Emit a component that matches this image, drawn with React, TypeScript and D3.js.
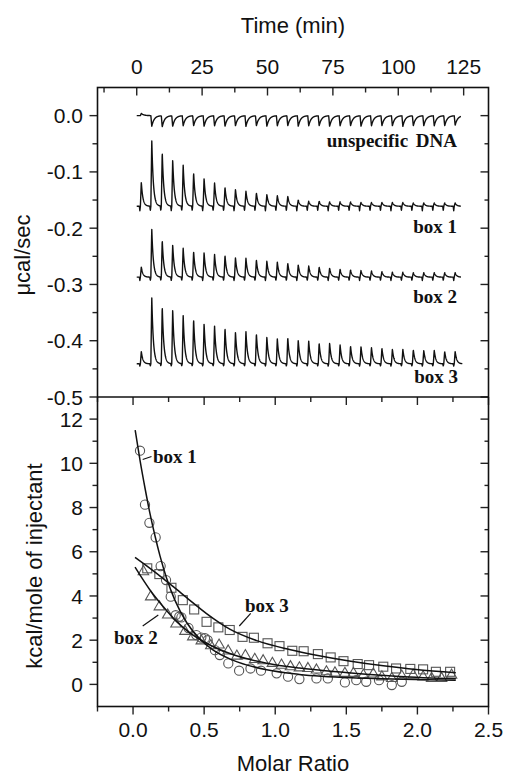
import React from "react";
import * as d3 from "d3";

// ---------- Data ----------
const timeTicks = [0, 25, 50, 75, 100, 125];
const timeMinor = [-12.5, 12.5, 37.5, 62.5, 87.5, 112.5];
const rateTicks = [0.0, -0.1, -0.2, -0.3, -0.4, -0.5];
const rateMinor = [-0.05, -0.15, -0.25, -0.35, -0.45];
const ratioTicks = [0.0, 0.5, 1.0, 1.5, 2.0, 2.5];
const ratioMinor = [-0.25, 0.25, 0.75, 1.25, 1.75, 2.25];
const heatTicks = [0, 2, 4, 6, 8, 10, 12];
const heatMinor = [1, 3, 5, 7, 9, 11];

// injection schedule (min)
const injectionTimes = [
  1.4, 5.4, 9.4, 13.4, 17.4, 21.4, 25.4, 29.4, 33.4, 37.4, 41.4, 45.4, 49.4, 53.4, 57.4, 61.4,
  65.4, 69.4, 73.4, 77.4, 81.4, 85.4, 89.4, 93.4, 97.4, 101.4, 105.4, 109.4, 113.4, 117.4, 121.4,
];

// raw heat-rate traces (µcal/sec): baseline and peak height per injection
const dnaBaseline = 0.0;
const dnaPeaks = [
  0.004, -0.019, -0.02, -0.019, -0.018, -0.018, -0.019, -0.018, -0.019, -0.018, -0.019, -0.018,
  -0.019, -0.018, -0.018, -0.019, -0.018, -0.018, -0.019, -0.018, -0.018, -0.019, -0.018, -0.018,
  -0.018, -0.019, -0.018, -0.018, -0.018, -0.018, -0.017,
];
const box1Baseline = -0.161;
const box1Peaks = [
  0.043, 0.118, 0.097, 0.083, 0.074, 0.06, 0.05, 0.042, 0.034, 0.03, 0.027, 0.024, 0.021, 0.019,
  0.018, 0.011, 0.009, 0.009, 0.008, 0.008, 0.008, 0.007, 0.007, 0.007, 0.007, 0.007, 0.006, 0.006,
  0.006, 0.006, 0.006,
];
const box2Baseline = -0.287;
const box2Peaks = [
  0.018, 0.086, 0.066, 0.058, 0.052, 0.046, 0.044, 0.041, 0.039, 0.035, 0.034, 0.031, 0.029, 0.027,
  0.025, 0.022, 0.02, 0.018, 0.016, 0.014, 0.013, 0.012, 0.011, 0.01, 0.009, 0.009, 0.008, 0.008,
  0.008, 0.008, 0.008,
];
const box3Baseline = -0.441;
const box3Peaks = [
  0.022, 0.119, 0.103, 0.097, 0.087, 0.08, 0.072, 0.068, 0.064, 0.057, 0.058, 0.054, 0.048, 0.045,
  0.047, 0.042, 0.041, 0.037, 0.037, 0.034, 0.032, 0.031, 0.029, 0.028, 0.026, 0.026, 0.025, 0.024,
  0.024, 0.022, 0.022,
];
const traceDips = [0, 0.008, 0.006, 0.004];

// integrated heats (kcal/mole of injectant)
const box1Ratio = [
  0.049, 0.084, 0.115, 0.159, 0.194, 0.232, 0.265, 0.3, 0.325, 0.34, 0.39, 0.445, 0.48, 0.506,
  0.525, 0.576, 0.61, 0.67, 0.746, 0.826, 0.9, 1.01, 1.09, 1.17, 1.29, 1.37, 1.49, 1.57, 1.64,
  1.73, 1.82, 1.89,
];
const box1Heat = [
  10.57, 8.13, 7.31, 6.65, 5.35, 4.72, 3.97, 3.13, 3.06, 3.03, 2.55, 2.23, 2.12, 2.09, 2.0, 1.55,
  1.33, 0.95, 0.62, 0.72, 0.62, 0.5, 0.35, 0.24, 0.27, 0.27, 0.09, 0.19, 0.12, 0.19, -0.03, 0.12,
];
const box2Ratio = [
  0.073, 0.124, 0.185, 0.244, 0.302, 0.365, 0.42, 0.48, 0.547, 0.605, 0.669, 0.73, 0.79, 0.856,
  0.915, 0.98, 1.044, 1.107, 1.17, 1.23, 1.29, 1.36, 1.42, 1.49, 1.55, 1.62, 1.69, 1.75, 1.82,
  1.89, 1.97, 2.04, 2.1, 2.17, 2.24,
];
const box2Heat = [
  5.1, 3.96, 3.51, 3.14, 2.73, 2.4, 2.15, 1.97, 1.75, 1.78, 1.51, 1.28, 1.3, 1.13, 1.07, 0.95,
  0.87, 0.8, 0.75, 0.72, 0.65, 0.57, 0.52, 0.5, 0.5, 0.42, 0.47, 0.34, 0.27, 0.38, 0.42, 0.34,
  0.27, 0.27, 0.42,
];
const box3Ratio = [
  0.1, 0.185, 0.27, 0.35, 0.43, 0.517, 0.6, 0.68, 0.77, 0.85, 0.946, 1.03, 1.12, 1.2, 1.3, 1.39,
  1.48, 1.58, 1.66, 1.76, 1.85, 1.95, 2.04, 2.13, 2.23,
];
const box3Heat = [
  5.25, 4.99, 4.37, 3.81, 3.39, 2.83, 2.58, 2.46, 2.15, 2.11, 1.86, 1.73, 1.52, 1.5, 1.37, 1.22,
  1.05, 0.92, 0.87, 0.8, 0.72, 0.7, 0.68, 0.57, 0.57,
];

// fitted curves
const box1FitX = [0.015, 0.05, 0.085, 0.12, 0.155, 0.19, 0.236, 0.295, 0.377, 0.47, 0.564, 0.7, 0.94, 1.17, 1.64, 2.27];
const box1FitY = [11.5, 10.1, 8.85, 7.7, 6.7, 5.8, 4.8, 3.8, 2.8, 2.05, 1.55, 1.1, 0.66, 0.45, 0.28, 0.19];
const box2FitX = [0.014, 0.119, 0.213, 0.305, 0.4, 0.517, 0.7, 0.94, 1.17, 1.41, 1.64, 1.875, 2.27];
const box2FitY = [5.3, 4.27, 3.51, 2.85, 2.33, 1.86, 1.35, 0.96, 0.74, 0.58, 0.46, 0.36, 0.25];
const box3FitX = [0.014, 0.096, 0.19, 0.283, 0.4, 0.517, 0.68, 0.87, 1.1, 1.29, 1.52, 1.76, 1.99, 2.27];
const box3FitY = [5.75, 5.36, 4.9, 4.42, 3.8, 3.2, 2.5, 1.98, 1.58, 1.32, 1.06, 0.84, 0.67, 0.53];

// ---------- Helpers ----------
function traceSeries(baseline: number, peaks: number[], dip: number, tau: number, tEnd: number) {
  const pts: [number, number][] = [];
  for (let t = 0; t <= tEnd + 1e-9; t += 0.06) {
    let v = baseline;
    injectionTimes.forEach((ti, i) => {
      const u = t - ti;
      if (u >= 0 && u < 0.35) v += (peaks[i] * u) / 0.35;
      else if (u >= 0.35) v += peaks[i] * Math.exp(-(u - 0.35) / tau);
      if (dip > 0 && u >= -0.4 && u < 0) v -= dip * (1 - Math.abs(u + 0.2) / 0.2);
    });
    pts.push([t, v]);
  }
  return pts;
}

const SANS = "'Liberation Sans', Arial, sans-serif";
const SERIF = "'Liberation Serif', 'Times New Roman', serif";

export default function App() {
  const W = 506;
  const H = 778;
  const L = 97.5;
  const R = 488.5;
  const T = 87.5;
  const M = 397;
  const B = 706.5;

  const xTime = d3.scaleLinear().domain([-15, 134.5]).range([L, R]);
  const yRate = d3.scaleLinear().domain([-0.5, 0.05]).range([M, T]);
  const xRatio = d3.scaleLinear().domain([-0.25, 2.5]).range([L, R]);
  const yHeat = d3.scaleLinear().domain([-1, 13]).range([B, M]);

  const traceLine = d3
    .line<[number, number]>()
    .x((d) => xTime(d[0]))
    .y((d) => yRate(d[1]));

  const traces = [
    traceSeries(dnaBaseline, dnaPeaks, traceDips[0], 0.9, 124),
    traceSeries(box1Baseline, box1Peaks, traceDips[1], 0.6, 124),
    traceSeries(box2Baseline, box2Peaks, traceDips[2], 0.6, 124),
    traceSeries(box3Baseline, box3Peaks, traceDips[3], 0.6, 124.5),
  ];

  const fitLine = d3
    .line<[number, number]>()
    .x((d) => xRatio(d[0]))
    .y((d) => yHeat(d[1]))
    .curve(d3.curveMonotoneX);

  const fits = [
    box1FitX.map((x, i) => [x, box1FitY[i]] as [number, number]),
    box2FitX.map((x, i) => [x, box2FitY[i]] as [number, number]),
    box3FitX.map((x, i) => [x, box3FitY[i]] as [number, number]),
  ];

  const tickStroke = "#222";
  const major = 8;
  const minor = 5;
  const tickFont = 21;
  const titleFont = 22;
  const mk = "#555";

  const triPath = (cx: number, cy: number, s: number) => {
    const h = (s * Math.sqrt(3)) / 2;
    return `M${cx},${cy - (2 * h) / 3}L${cx + s / 2},${cy + h / 3}L${cx - s / 2},${cy + h / 3}Z`;
  };

  return (
    <svg
      width={W}
      height={H}
      viewBox={`0 0 ${W} ${H}`}
      style={{ position: "absolute", left: 0, top: 0, background: "#fff" }}
    >
      <rect x={0} y={0} width={W} height={H} fill="#fff" />

      {/* ---------- Upper panel ---------- */}
      {traces.map((pts, i) => (
        <path key={"tr" + i} d={traceLine(pts) || ""} fill="none" stroke="#111" strokeWidth={1.4} strokeLinejoin="round" />
      ))}

      {/* top axis ticks (inward) */}
      {timeTicks.map((t) => (
        <line key={"tt" + t} x1={xTime(t)} x2={xTime(t)} y1={T} y2={T + major} stroke={tickStroke} strokeWidth={1.4} />
      ))}
      {timeMinor.map((t) => (
        <line key={"tm" + t} x1={xTime(t)} x2={xTime(t)} y1={T} y2={T + minor} stroke={tickStroke} strokeWidth={1.4} />
      ))}
      {timeTicks.map((t) => (
        <text key={"tl" + t} x={xTime(t)} y={74} textAnchor="middle" fontFamily={SANS} fontSize={tickFont} fill="#111">
          {t}
        </text>
      ))}
      <text x={293} y={33} textAnchor="middle" fontFamily={SANS} fontSize={titleFont} fill="#111">
        Time (min)
      </text>

      {/* left axis ticks (outward) & right axis ticks (inward) */}
      {rateTicks.map((v) => (
        <g key={"rt" + v}>
          <line x1={L - major} x2={L} y1={yRate(v)} y2={yRate(v)} stroke={tickStroke} strokeWidth={1.4} />
          <line x1={R - major} x2={R} y1={yRate(v)} y2={yRate(v)} stroke={tickStroke} strokeWidth={1.4} />
          <text x={83} y={yRate(v)} dy="0.36em" textAnchor="end" fontFamily={SANS} fontSize={tickFont} fill="#111">
            {v.toFixed(1)}
          </text>
        </g>
      ))}
      {rateMinor.map((v) => (
        <g key={"rm" + v}>
          <line x1={L - minor} x2={L} y1={yRate(v)} y2={yRate(v)} stroke={tickStroke} strokeWidth={1.4} />
          <line x1={R - minor + 1} x2={R} y1={yRate(v)} y2={yRate(v)} stroke={tickStroke} strokeWidth={1.4} />
        </g>
      ))}
      <text
        transform={`translate(30,255) rotate(-90)`}
        textAnchor="middle"
        fontFamily={SANS}
        fontSize={titleFont}
        fill="#111"
      >
        μcal/sec
      </text>

      {/* upper labels */}
      <text x={457} y={147} textAnchor="end" fontFamily={SERIF} fontSize={19} fontWeight={600} fill="#111" wordSpacing={3}>
        unspecific DNA
      </text>
      <text x={457} y={233} textAnchor="end" fontFamily={SERIF} fontSize={19} fontWeight={600} fill="#111">
        box 1
      </text>
      <text x={457} y={303} textAnchor="end" fontFamily={SERIF} fontSize={19} fontWeight={600} fill="#111">
        box 2
      </text>
      <text x={458} y={383} textAnchor="end" fontFamily={SERIF} fontSize={19} fontWeight={600} fill="#111">
        box 3
      </text>

      {/* ---------- Lower panel ---------- */}
      {box1Ratio.map((x, i) => (
        <circle key={"c" + i} cx={xRatio(x)} cy={yHeat(box1Heat[i])} r={4.6} fill="none" stroke={mk} strokeWidth={1.1} />
      ))}
      {box2Ratio.map((x, i) => (
        <path key={"t" + i} d={triPath(xRatio(x), yHeat(box2Heat[i]), 10.5)} fill="none" stroke={mk} strokeWidth={1.1} />
      ))}
      {box3Ratio.map((x, i) => (
        <rect
          key={"s" + i}
          x={xRatio(x) - 4.5}
          y={yHeat(box3Heat[i]) - 4.5}
          width={9}
          height={9}
          fill="none"
          stroke={mk}
          strokeWidth={1.1}
        />
      ))}
      {fits.map((f, i) => (
        <path key={"f" + i} d={fitLine(f) || ""} fill="none" stroke="#111" strokeWidth={1.5} />
      ))}

      {/* lower labels with leaders */}
      <line x1={142.7} y1={459.5} x2={151.5} y2={456.5} stroke="#111" strokeWidth={1.2} />
      <text x={153} y={463} fontFamily={SERIF} fontSize={19} fontWeight={600} fill="#111">
        box 1
      </text>
      <line x1={239.3} y1={626} x2={250.7} y2={613.3} stroke="#111" strokeWidth={1.2} />
      <text x={245} y={612} fontFamily={SERIF} fontSize={19} fontWeight={600} fill="#111">
        box 3
      </text>
      <line x1={142.7} y1={626} x2={158.3} y2={615} stroke="#111" strokeWidth={1.2} />
      <text x={114} y={644} fontFamily={SERIF} fontSize={19} fontWeight={600} fill="#111">
        box 2
      </text>

      {/* lower-top ticks (inward, on divider) */}
      {ratioTicks.map((v) => (
        <line key={"rtt" + v} x1={xRatio(v)} x2={xRatio(v)} y1={M} y2={M + major} stroke={tickStroke} strokeWidth={1.4} />
      ))}
      {ratioMinor.map((v) => (
        <line key={"rtm" + v} x1={xRatio(v)} x2={xRatio(v)} y1={M} y2={M + minor} stroke={tickStroke} strokeWidth={1.4} />
      ))}
      {/* bottom ticks (outward) */}
      {ratioTicks.map((v) => (
        <g key={"rb" + v}>
          <line x1={xRatio(v)} x2={xRatio(v)} y1={B} y2={B + major} stroke={tickStroke} strokeWidth={1.4} />
          <text x={xRatio(v)} y={737} textAnchor="middle" fontFamily={SANS} fontSize={tickFont} fill="#111">
            {v.toFixed(1)}
          </text>
        </g>
      ))}
      {ratioMinor.map((v) => (
        <line key={"rbm" + v} x1={xRatio(v)} x2={xRatio(v)} y1={B} y2={B + minor} stroke={tickStroke} strokeWidth={1.4} />
      ))}
      <text x={293} y={771} textAnchor="middle" fontFamily={SANS} fontSize={titleFont} fill="#111">
        Molar Ratio
      </text>

      {heatTicks.map((v) => (
        <g key={"ht" + v}>
          <line x1={L - major} x2={L} y1={yHeat(v)} y2={yHeat(v)} stroke={tickStroke} strokeWidth={1.4} />
          <line x1={R - major} x2={R} y1={yHeat(v)} y2={yHeat(v)} stroke={tickStroke} strokeWidth={1.4} />
          <text x={83} y={yHeat(v)} dy="0.36em" textAnchor="end" fontFamily={SANS} fontSize={tickFont} fill="#111">
            {v}
          </text>
        </g>
      ))}
      {heatMinor.map((v) => (
        <g key={"hm" + v}>
          <line x1={L - minor} x2={L} y1={yHeat(v)} y2={yHeat(v)} stroke={tickStroke} strokeWidth={1.4} />
          <line x1={R - minor + 1} x2={R} y1={yHeat(v)} y2={yHeat(v)} stroke={tickStroke} strokeWidth={1.4} />
        </g>
      ))}
      <text
        transform={`translate(42,566) rotate(-90)`}
        textAnchor="middle"
        fontFamily={SANS}
        fontSize={titleFont}
        fill="#111"
      >
        kcal/mole of injectant
      </text>

      {/* frames */}
      <rect x={L} y={T} width={R - L} height={B - T} fill="none" stroke="#111" strokeWidth={1.6} />
      <line x1={L} x2={R} y1={M} y2={M} stroke="#111" strokeWidth={1.6} />
    </svg>
  );
}
